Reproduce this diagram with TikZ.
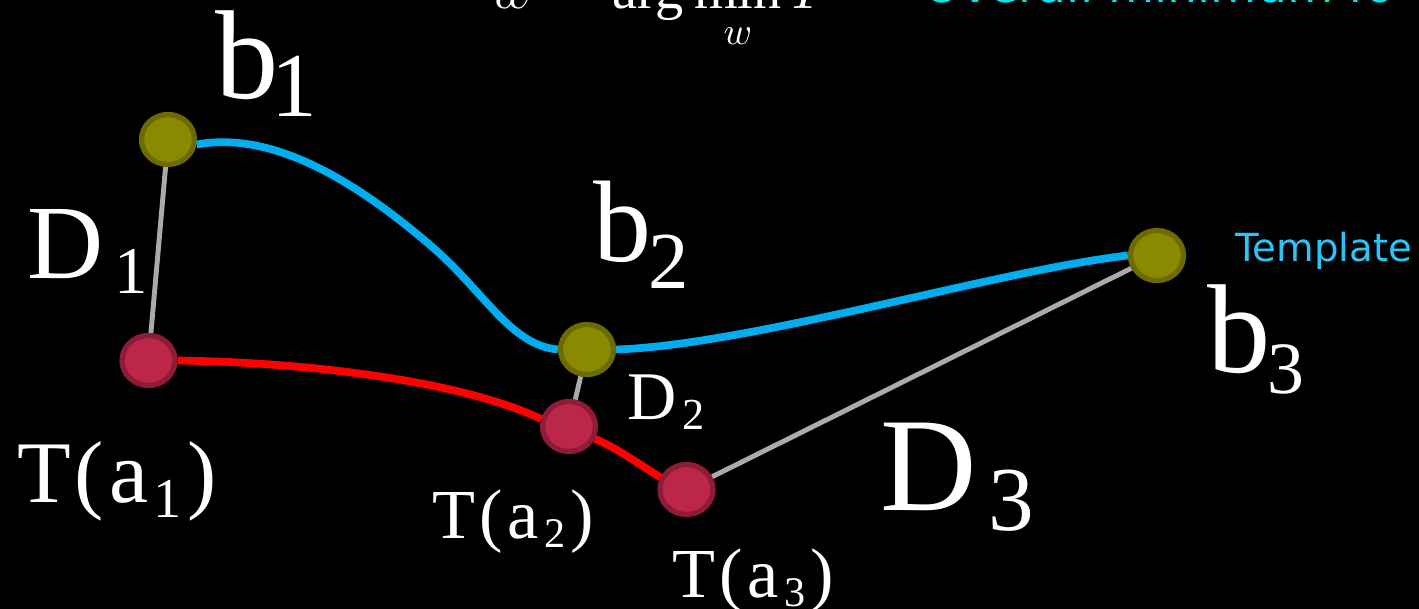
\documentclass[tikz,border=0pt]{standalone}
\usepackage{amsmath}
\usepackage{fontspec}
\setmainfont{Liberation Serif}
\newfontfamily\sansx{DejaVu Sans}
\usepackage{xcolor}
\usepackage{tikz}
\usetikzlibrary{shapes.geometric}
\definecolor{olivex}{HTML}{8A8A00}
\definecolor{olivedk}{HTML}{6B6B00}
\definecolor{crimx}{HTML}{BC2749}
\definecolor{crimdk}{HTML}{8E1B38}
\definecolor{tmplblue}{HTML}{00AEEF}
\definecolor{tmpltext}{HTML}{29C5F6}
\definecolor{cyanx}{HTML}{00E5EE}
\definecolor{distgray}{HTML}{AAAAAA}
\newcommand{\lo}[3]{{\fontsize{#1}{#1}\selectfont\raisebox{-#2}{#3}}}
\tikzset{
  bnode/.style={ellipse,draw=olivedk,fill=olivex,line width=1.5pt,minimum width=0.53cm,minimum height=0.50cm,inner sep=0pt},
  tnode/.style={ellipse,draw=crimdk,fill=crimx,line width=1.5pt,minimum width=0.53cm,minimum height=0.50cm,inner sep=0pt},
  tmpl/.style={tmplblue,line width=2.2pt},
  trans/.style={red,line width=2.2pt},
  dist/.style={distgray,line width=1.4pt},
  lbl/.style={text=white,anchor=base west,inner sep=0pt}
}

\begin{document}
\begin{tikzpicture}
\fill[black] (0,0) rectangle (14.19,-6.09);
\useasboundingbox (0,0) rectangle (14.19,-6.09);
\clip (0,0) rectangle (14.19,-6.09);
% points
\node[bnode] (b1) at (1.68,-1.395) {};
\node[bnode] (b2) at (5.87,-3.495) {};
\node[bnode] (b3) at (11.57,-2.555) {};
\node[tnode] (ta1) at (1.485,-3.605) {};
\node[tnode] (ta2) at (5.69,-4.265) {};
\node[tnode] (ta3) at (6.865,-4.895) {};
% distances
\draw[dist] (b1) -- (ta1);
\draw[dist] (b2) -- (ta2);
\draw[dist] (ta3) -- (b3);
% template and transformed curves
\draw[tmpl] (b1.-10) .. controls (2.75,-1.30) and (3.60,-1.85) .. (4.30,-2.45)
  .. controls (4.85,-2.92) and (5.10,-3.45) .. (b2.west);
\draw[tmpl] (b2.east) .. controls (7.50,-3.45) and (10.00,-2.70) .. (b3.west);
\draw[trans] (ta1.east) .. controls (3.00,-3.62) and (4.60,-3.80) .. (ta2.165);
\draw[trans] (ta2.-25) .. controls (6.20,-4.50) and (6.40,-4.65) .. (ta3.155);
% labels
\node[lbl,font=\fontsize{36}{36}\selectfont] (lb1) at (2.15,-0.98) {b\kern-2pt\lo{26}{5.4pt}{1}};
\node[lbl,font=\fontsize{33}{33}\selectfont] (lb2) at (5.93,-2.62) {b\kern-1pt\lo{23}{7.4pt}{2}};
\node[lbl,font=\fontsize{36}{36}\selectfont] (lb3) at (12.07,-3.72) {b\kern-1pt\lo{21}{6pt}{3}};
\node[lbl,font=\fontsize{30}{30}\selectfont] (ld1) at (0.27,-2.78) {D\kern3pt\lo{19}{4.3pt}{1}};
\node[lbl,font=\fontsize{19.4}{19.4}\selectfont] (ld2) at (6.27,-4.20) {D\kern1.5pt\lo{12.6}{2.8pt}{2}};
\node[lbl,font=\fontsize{38}{38}\selectfont] (ld3) at (8.80,-5.10) {D\kern3.3pt\lo{26}{5.7pt}{3}};
\node[lbl,font=\fontsize{25}{25}\selectfont] (lt1) at (0.17,-5.03) {T\kern1pt(\kern1.5pt a\kern1.5pt\lo{16}{4pt}{1}\kern1.5pt)};
\node[lbl,font=\fontsize{20}{20}\selectfont] (lt2) at (4.32,-5.38) {T\kern1pt(\kern1.5pt a\kern1.5pt\lo{12}{2.8pt}{2}\kern1.5pt)};
\node[lbl,font=\fontsize{20}{20}\selectfont] (lt3) at (6.72,-5.97) {T\kern1pt(\kern1.5pt a\kern1.5pt\lo{12}{2.8pt}{3}\kern1.5pt)};
\node[lbl,text=tmpltext,font=\sansx\fontsize{11}{11}\selectfont] (ltmpl) at (12.35,-2.62) {Template};
% heading, cut by the top edge
\node[lbl,font=\fontsize{16}{16}\selectfont] (form) at (4.90,-0.08) {$\displaystyle w=\arg\min_{w}F$};
\node[lbl,text=cyanx,font=\sansx\fontsize{13.5}{13.5}\selectfont] (head) at (9.23,-0.03) {Overall minimum fo};
\end{tikzpicture}
\end{document}
